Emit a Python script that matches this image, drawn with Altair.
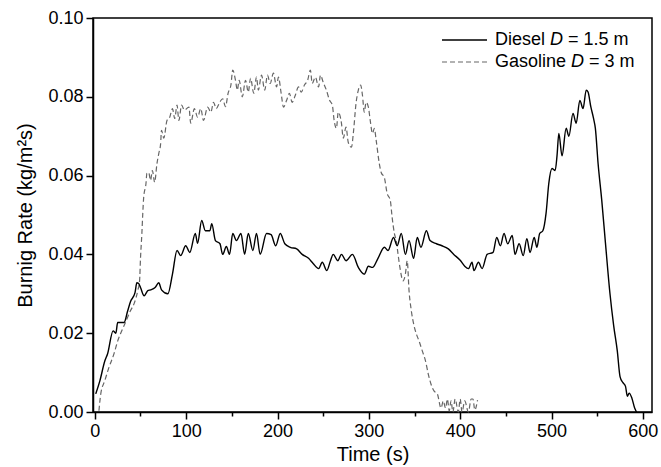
import altair as alt
import pandas as pd

# ---- data ----
diesel_t = [1, 5.5, 11, 14, 20, 23, 25, 32, 36, 39, 44, 46, 48, 50, 54, 58, 61, 66, 70, 73,
            80, 85, 90, 94, 99.5, 104, 110, 112.5, 117, 121, 126, 128, 132, 137, 140, 144, 147.5,
            151, 155, 160, 164, 168, 173, 177, 181, 188, 193, 198, 203, 208, 214, 221, 227, 234,
            239, 245, 249, 254, 258, 261, 266, 270, 275, 282, 288.5, 295, 299.5, 304, 310, 317,
            321, 327, 331, 335.5, 340, 344, 349, 353, 357, 363, 367, 374, 380, 387, 393, 400,
            405, 409, 413, 415, 420, 424, 429.5, 436, 440, 444, 448, 452, 457, 460, 464.5, 469,
            473, 476.5, 481, 484, 487, 490.5, 494, 497, 500.5, 504, 506, 508, 511.5, 516, 519,
            523.5, 527, 531, 534.5, 538, 540, 543, 546, 548, 551, 555, 559, 564, 568, 572, 575,
            578, 581, 583, 585, 588, 591, 593]
diesel_rate = [0.0046, 0.0079, 0.013, 0.0148, 0.0206, 0.020, 0.0227, 0.0227, 0.0257, 0.028,
               0.0303, 0.0328, 0.0326, 0.0316, 0.0295, 0.0308, 0.031, 0.0316, 0.0328, 0.031,
               0.030, 0.035, 0.041, 0.0397, 0.0422, 0.0405, 0.0453, 0.0428, 0.0486, 0.046,
               0.046, 0.0478, 0.0435, 0.0427, 0.040, 0.042, 0.040,
               0.0453, 0.0435, 0.0453, 0.040, 0.0453, 0.041, 0.0453, 0.040, 0.0453, 0.045,
               0.0422, 0.0453, 0.0427, 0.0418, 0.0414, 0.040, 0.039,
               0.0377, 0.0364, 0.038, 0.0359, 0.0384, 0.040, 0.0384, 0.040, 0.0384, 0.040,
               0.0367, 0.035, 0.037, 0.0367, 0.039, 0.0418,
               0.041, 0.0443, 0.0422, 0.0453, 0.040, 0.0435, 0.039, 0.0443, 0.0418, 0.046,
               0.0435, 0.0427, 0.0422, 0.0414, 0.040, 0.0385,
               0.037, 0.0364, 0.038, 0.0359, 0.038, 0.0364, 0.040, 0.0405, 0.0443, 0.0422,
               0.0453, 0.0427, 0.0448, 0.040, 0.0427, 0.0397,
               0.044, 0.0405, 0.0443, 0.0418, 0.0453, 0.046, 0.0504, 0.058, 0.0618, 0.0613,
               0.065, 0.0707, 0.065, 0.072, 0.070,
               0.0758, 0.0733, 0.0791, 0.077, 0.0817, 0.0812, 0.0775, 0.0745, 0.072, 0.063,
               0.0537, 0.043, 0.030, 0.022, 0.0155, 0.009,
               0.0075, 0.0065, 0.004, 0.0048, 0.0035, 0.001, 0.0]

gas_t = [4.5, 6.5, 11, 15, 21, 25, 29.5, 34, 39, 43, 47, 49, 50, 51.5, 52.5, 53.5, 56, 57, 59,
         61, 63, 65.5, 68, 70, 72, 73, 75.5, 79, 82, 85, 87.5, 90, 92, 95, 98, 103, 105, 109,
         112.5, 116, 119, 123.5, 127, 130, 133, 136.5, 140, 143, 146, 149, 151, 154, 156, 158,
         161.5, 165, 168, 170.5, 174, 177, 179, 182.5, 186, 189, 192, 195.5, 199, 201, 204,
         206.5, 210, 213, 216, 219.5, 223, 226, 229.5, 233, 236, 238, 241.5, 245, 247, 250,
         253.5, 257, 260, 262, 264.5, 266.5, 270, 272, 275, 277.5, 281, 283, 286, 288.5, 291,
         293, 295, 297, 299.5, 301.5, 304, 306, 308, 311.5, 313.5, 317, 320, 323.5, 325.5, 328,
         330, 332, 334, 337.5, 340, 342, 344, 346.5, 349, 352, 355, 358.5, 362, 365, 368,
         371.5, 375, 379, 381.5, 384, 386, 388, 390, 392, 394.5, 398, 400, 402, 405, 409, 412,
         414, 416, 419]
gas_rate = [0.0003, 0.0046, 0.008, 0.011, 0.0148, 0.018, 0.0206, 0.023, 0.0257, 0.0275, 0.0308,
            0.0333, 0.039, 0.0453, 0.0504, 0.0545, 0.058, 0.0606, 0.0608,
            0.0588, 0.0613, 0.0583, 0.063, 0.0656, 0.068, 0.0715, 0.0695, 0.074, 0.0748, 0.077,
            0.0745, 0.0779, 0.074, 0.0779, 0.0766, 0.0774, 0.0733, 0.077,
            0.0748, 0.077, 0.074, 0.0774, 0.0761, 0.0786, 0.077, 0.0785, 0.0795, 0.0775, 0.081,
            0.083, 0.0868, 0.0842, 0.0817, 0.0842,
            0.080, 0.0842, 0.0812, 0.0847, 0.0809, 0.085, 0.0817, 0.0855, 0.0817, 0.0855,
            0.0834, 0.086, 0.0825, 0.085, 0.0809,
            0.0774, 0.0791, 0.0809, 0.0786, 0.0804, 0.0825, 0.0812, 0.083, 0.0842, 0.0868,
            0.0834, 0.085, 0.0825, 0.0855, 0.0837,
            0.0817, 0.0791, 0.0779, 0.074, 0.072, 0.0761, 0.0733, 0.0695, 0.0723, 0.0684,
            0.0672, 0.0707, 0.0784, 0.0817, 0.083,
            0.0804, 0.0761, 0.0786, 0.0774, 0.074, 0.0707, 0.072, 0.069, 0.063, 0.0608, 0.0595,
            0.0555, 0.0537, 0.0494, 0.0453,
            0.0435, 0.040, 0.0367, 0.0333, 0.035, 0.0384, 0.0308, 0.0257, 0.0224, 0.0198,
            0.018, 0.0155, 0.013, 0.0097, 0.0071,
            0.0053, 0.0046, 0.001, 0.0028, 0.001, 0.0033, 0.0003, 0.0028, 0.0, 0.0033, 0.0,
            0.0033, 0.0, 0.0028, 0.0, 0.0033,
            0.0033, 0.0005, 0.003]

x_ticks = [0, 50, 100, 150, 200, 250, 300, 350, 400, 450, 500, 550, 600]
y_ticks = [0.0, 0.01, 0.02, 0.03, 0.04, 0.05, 0.06, 0.07, 0.08, 0.09, 0.10]

legend_labels = ["Diesel", "Gasoline"]
legend_sizes = ["= 1.5 m", "= 3 m"]

FONT = "Liberation Sans"

df_d = pd.DataFrame({"t": diesel_t, "rate": diesel_rate})
df_g = pd.DataFrame({"t": gas_t, "rate": gas_rate})

xscale = alt.Scale(domain=[-2, 610], nice=False, zero=False)
yscale = alt.Scale(domain=[0, 0.1], nice=False)

x_axis = alt.Axis(
    values=x_ticks,
    title="Time (s)",
    labelExpr="datum.value % 100 == 0 ? datum.label : ''",
    tickSize={"condition": {"test": "datum.value % 100 == 0", "value": 7}, "value": 4},
    grid=False,
    labelPadding=3,
    titlePadding=4,
)
y_axis = alt.Axis(
    values=y_ticks,
    title="Burnig Rate (kg/m²s)",
    format=".2f",
    labelExpr="abs(round(datum.value*50) - datum.value*50) < 0.001 ? datum.label : ''",
    tickSize={"condition": {"test": "abs(round(datum.value*50) - datum.value*50) < 0.001",
                            "value": 7}, "value": 4},
    grid=False,
    labelPadding=3,
    titlePadding=12,
)

diesel = alt.Chart(df_d).mark_line(color="black", strokeWidth=1.4, interpolate="monotone").encode(
    x=alt.X("t:Q", scale=xscale, axis=x_axis),
    y=alt.Y("rate:Q", scale=yscale, axis=y_axis),
)
gas = alt.Chart(df_g).mark_line(color="#666666", strokeWidth=1.2, strokeDash=[5, 3],
                                interpolate="monotone").encode(
    x=alt.X("t:Q", scale=xscale),
    y=alt.Y("rate:Q", scale=yscale),
)

one = pd.DataFrame({"a": [0]})
rows = [22, 44]
x0 = 402
leg = []
leg.append(alt.Chart(one).mark_rule(color="black", strokeWidth=1.4).encode(
    x=alt.value(349), x2=alt.value(394), y=alt.value(rows[0])))
leg.append(alt.Chart(one).mark_rule(color="#666666", strokeWidth=1.2, strokeDash=[5, 3]).encode(
    x=alt.value(349), x2=alt.value(394), y=alt.value(rows[1])))
d_offsets = [55, 76]
for i in range(2):
    base = dict(align="left", baseline="middle", fontSize=18, font=FONT, color="black")
    leg.append(alt.Chart(one).mark_text(**base).encode(
        x=alt.value(x0), y=alt.value(rows[i]), text=alt.value(legend_labels[i])))
    leg.append(alt.Chart(one).mark_text(fontStyle="italic", **base).encode(
        x=alt.value(x0 + d_offsets[i]), y=alt.value(rows[i]), text=alt.value("D")))
    leg.append(alt.Chart(one).mark_text(**base).encode(
        x=alt.value(x0 + d_offsets[i] + 18), y=alt.value(rows[i]), text=alt.value(legend_sizes[i])))

chart = alt.layer(gas, diesel, *leg).properties(
    width=559,
    height=394,
    padding={"left": 93, "top": 18, "right": 9, "bottom": 55},
    autosize="none",
    background="white",
).configure_view(
    stroke="black", strokeWidth=1.5
).configure_axis(
    labelFont=FONT, labelFontSize=18, labelColor="black",
    titleFont=FONT, titleFontSize=20, titleFontWeight="normal", titleColor="black",
    domainColor="black", domainWidth=1.5, tickColor="black", tickWidth=1.5,
)

chart.save("out.html", embed_options={"renderer": "svg", "actions": False})
